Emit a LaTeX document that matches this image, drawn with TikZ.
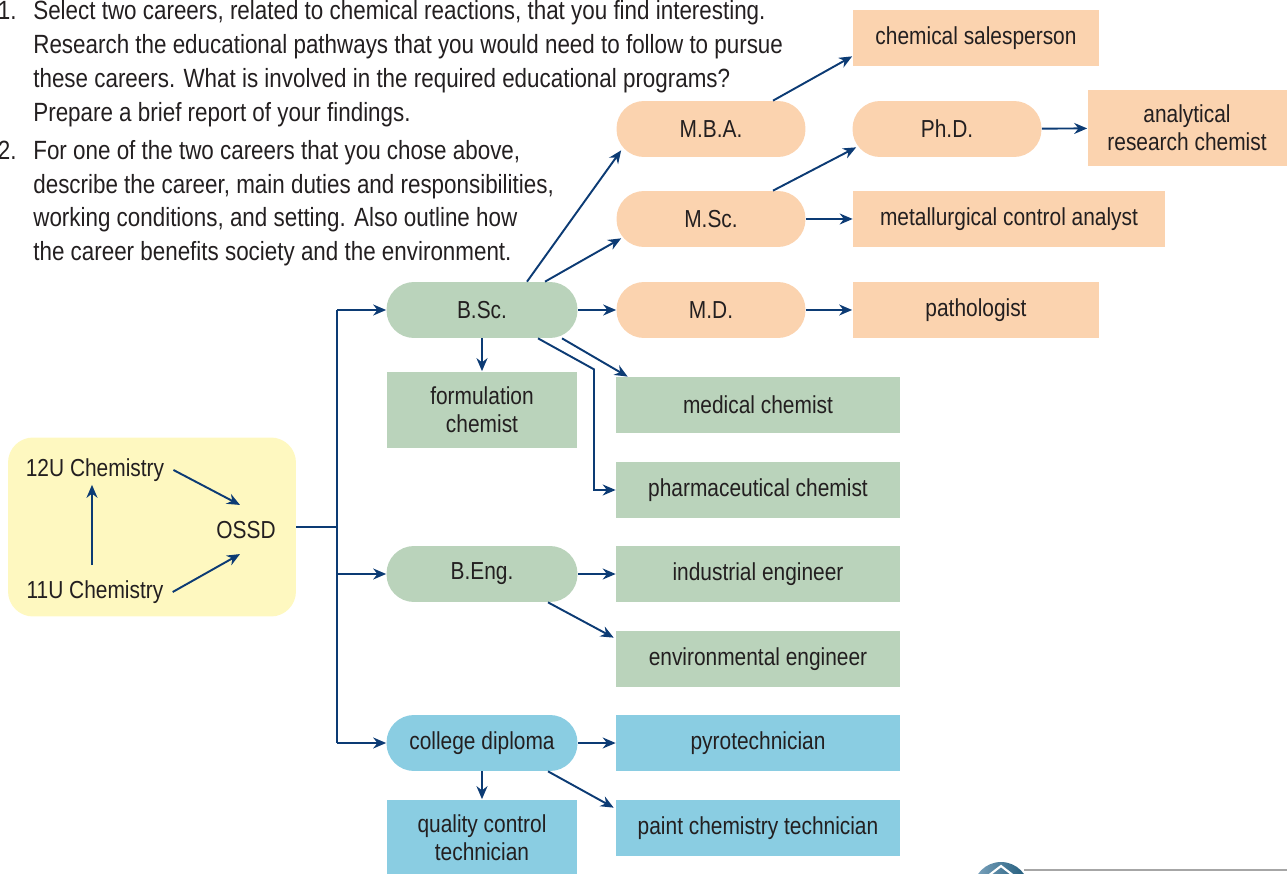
\documentclass[tikz,border=0pt]{standalone}
\usepackage{fontspec}
\setmainfont{Liberation Sans}[FakeStretch=0.85]
\usetikzlibrary{arrows.meta}
\definecolor{ink}{HTML}{231F20}
\definecolor{navy}{HTML}{0C3B74}
\definecolor{cream}{HTML}{FEF8C0}
\definecolor{sage}{HTML}{BAD3BB}
\definecolor{peach}{HTML}{FBD3AF}
\definecolor{sky}{HTML}{8ACDE2}
\definecolor{logolight}{HTML}{7FA6C0}
\definecolor{logodark}{HTML}{1D5878}

\begin{document}
\begin{tikzpicture}[
  x={(0.02cm,0cm)},
  y={(0cm,-0.02cm)},
  every node/.style={inner sep=0pt, text=ink, font=\fontsize{14}{16}\selectfont},
  pill/.style={rectangle, rounded corners=0.55cm, minimum height=1.12cm},
  job/.style={rectangle, minimum height=1.12cm},
  route/.style={draw=navy, line width=1.1pt},
  arr/.style={route, -{Stealth[length=0.26cm, width=0.22cm]}}
]
\useasboundingbox (0,0) rectangle (1287,874);

\node[anchor=north west, align=left, font=\fontsize{15}{19.3}\selectfont] (tasks) at (33,0)
  {\llap{1.\hspace{9.5pt}}Select two careers, related to chemical reactions, that you find interesting.\\
   Research the educational pathways that you would need to follow to pursue\\
   these careers. What is involved in the required educational programs?\\
   Prepare a brief report of your findings.\\[2.3pt]
   \llap{2.\hspace{9.5pt}}For one of the two careers that you chose above,\\
   describe the career, main duties and responsibilities,\\
   working conditions, and setting. Also outline how\\
   the career benefits society and the environment.};

\node[fill=cream, rounded corners=0.5cm, minimum width=5.76cm, minimum height=3.58cm] (school) at (152,527) {};
\node (chem12) at (95,470) {12U Chemistry};
\node (chem11) at (95,592) {11U Chemistry};
\node (ossd) at (246,530) {OSSD};

\node[pill, fill=sage, minimum width=3.82cm] (bsc) at (482,310) {B.Sc.};
\node[pill, fill=sage, minimum width=3.82cm] (beng) at (482,574) {B.Eng.};
\node[pill, fill=sky, minimum width=3.82cm] (diploma) at (482,743) {college diploma};
\node[job, fill=sage, minimum width=3.82cm, minimum height=1.54cm, align=center] (formul) at (482,410) {formulation\\chemist};
\node[job, fill=sky, minimum width=3.82cm, minimum height=1.54cm, align=center] (quality) at (482,838) {quality control\\technician};

\node[pill, fill=peach, minimum width=3.78cm] (mba) at (711,129) {M.B.A.};
\node[pill, fill=peach, minimum width=3.78cm] (msc) at (711,219) {M.Sc.};
\node[pill, fill=peach, minimum width=3.78cm] (md) at (711,310) {M.D.};
\node[pill, fill=peach, minimum width=3.78cm] (phd) at (947,129) {Ph.D.};

\node[job, fill=peach, minimum width=4.94cm] (salesp) at (976,38) {chemical salesperson};
\node[job, fill=peach, minimum width=3.98cm, minimum height=1.54cm, align=center] (analyt) at (1187,128) {analytical\\research chemist};
\node[job, fill=peach, minimum width=6.24cm] (metal) at (1009,219) {metallurgical control analyst};
\node[job, fill=peach, minimum width=4.94cm] (patho) at (976,310) {pathologist};

\node[job, fill=sage, minimum width=5.68cm] (medchem) at (758,405) {medical chemist};
\node[job, fill=sage, minimum width=5.68cm] (pharma) at (758,490) {pharmaceutical chemist};
\node[job, fill=sage, minimum width=5.68cm] (indeng) at (758,574) {industrial engineer};
\node[job, fill=sage, minimum width=5.68cm] (enveng) at (758,659) {environmental engineer};
\node[job, fill=sky, minimum width=5.68cm] (pyro) at (758,743) {pyrotechnician};
\node[job, fill=sky, minimum width=5.68cm] (paint) at (758,828) {paint chemistry technician};

\draw[arr] ([xshift=-0.06cm,yshift=0.3cm]chem11.north) -- ([xshift=-0.06cm,yshift=-0.06cm]chem12.south);
\draw[arr] ([xshift=0.18cm]chem12.east) -- ([xshift=-0.12cm,yshift=0.32cm]ossd.north);
\draw[arr] ([xshift=0.18cm]chem11.east) -- ([xshift=-0.12cm,yshift=-0.3cm]ossd.south);

\coordinate (split) at (337,527);
\draw[route] (school.east) -- (split);
\draw[route] (split |- bsc) -- (split |- diploma);
\draw[arr] (split |- bsc) -- (bsc);
\draw[arr] (split |- beng) -- (beng);
\draw[arr] (split |- diploma) -- (diploma);

\draw[arr] ([xshift=0.9cm]bsc.north) -- ([xshift=0.1cm,yshift=0.14cm]mba.south west);
\draw[arr] ([xshift=1.26cm]bsc.north) -- ([xshift=0.1cm,yshift=0.18cm]msc.south west);
\draw[arr] (bsc) -- (md);
\draw[arr] (bsc) -- (formul);
\draw[arr] ([xshift=1.6cm]bsc.south) -- ([xshift=0.24cm]medchem.north west);
\draw[arr] ([xshift=1.12cm]bsc.south) -- ++(56,31) |- (pharma);

\draw[arr] ([xshift=1.24cm]mba.north) -- ([yshift=0.2cm]salesp.south west);
\draw[arr] ([xshift=1.24cm]msc.north) -- ([xshift=0.08cm,yshift=0.2cm]phd.south west);
\draw[arr] (msc) -- (metal);
\draw[arr] (md) -- (patho);
\draw[arr] (phd) -- (analyt);

\draw[arr] (beng) -- (indeng);
\draw[arr] ([xshift=1.32cm]beng.south) -- ([xshift=-0.04cm,yshift=-0.14cm]enveng.north west);
\draw[arr] (diploma) -- (pyro);
\draw[arr] (diploma) -- (quality);
\draw[arr] ([xshift=1.32cm]diploma.south) -- ([xshift=-0.04cm,yshift=-0.16cm]paint.north west);

\shade[left color=logolight, right color=logodark] (1001,890) circle (0.56cm);
\draw[white, line width=1.2pt] (988,876) -- (1001,866) -- (1014,876);
\draw[gray!70, line width=0.6pt] (1024,870) -- (1287,870);
\end{tikzpicture}
\end{document}
